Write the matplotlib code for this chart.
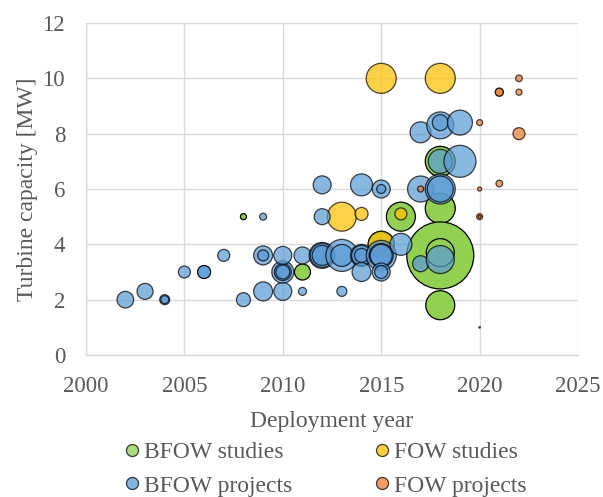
import matplotlib.pyplot as plt
import numpy as np

# bubble data: year, turbine capacity [MW], bubble value (relative area)
bfow_studies_year = [2008, 2011, 2015, 2016, 2018, 2018, 2018, 2018, 2018]
bfow_studies_mw   = [5.0, 3.0, 4.0, 5.0, 7.0, 5.3, 3.6, 3.7, 1.8]
bfow_studies_val  = [9, 64, 169, 210, 225, 225, 1122, 196, 210]

fow_studies_year = [2013, 2014, 2015, 2015, 2016, 2018]
fow_studies_mw   = [5.0, 5.1, 10.0, 4.0, 5.1, 10.0]
fow_studies_val  = [210, 42, 225, 169, 36, 225]

bfow_proj_year = [2002, 2003, 2004, 2004, 2005, 2006, 2006, 2007, 2008,
                  2009, 2009, 2009, 2009, 2010, 2010, 2010, 2010, 2010,
                  2011, 2011, 2012, 2012, 2012, 2012, 2012, 2013, 2013, 2013,
                  2014, 2014, 2014, 2014, 2014, 2015, 2015, 2015, 2015, 2015,
                  2015, 2015, 2016, 2017, 2017, 2017, 2018, 2018, 2018, 2018,
                  2018, 2018, 2019, 2019]
bfow_proj_mw = [2.0, 2.3, 2.0, 2.0, 3.0, 3.0, 3.0, 3.6, 2.0,
                2.3, 3.6, 3.6, 5.0, 2.3, 3.0, 3.0, 3.0, 3.6,
                2.3, 3.6, 6.15, 5.0, 3.6, 3.6, 3.6, 2.3, 3.6, 3.6,
                6.15, 3.6, 3.6, 3.6, 3.0, 6.0, 6.0, 3.6, 3.6, 3.6,
                3.0, 3.0, 4.0, 8.05, 6.0, 3.3, 8.3, 8.4, 7.0, 6.0,
                6.0, 3.45, 8.4, 7.0]
bfow_proj_val = [69, 64, 25, 16, 36, 42, 42, 36, 49,
                 90, 90, 30, 12, 81, 121, 72, 49, 81,
                 16, 72, 81, 64, 169, 144, 100, 25, 256, 121,
                 121, 121, 100, 49, 90, 81, 20, 225, 144, 121,
                 81, 42, 121, 110, 169, 64, 182, 64, 144, 225,
                 169, 196, 156, 256]

fow_proj_year = [2017, 2020, 2020, 2020, 2020, 2020, 2021, 2021, 2021, 2022, 2022, 2022]
fow_proj_mw   = [6.0, 8.4, 6.0, 5.0, 5.0, 1.0, 9.5, 9.5, 6.2, 10.0, 9.5, 8.0]
fow_proj_val  = [9, 9, 4, 9, 2, 0.5, 16, 16, 11, 11, 9, 36]

series = [
    ("BFOW studies", bfow_studies_year, bfow_studies_mw, bfow_studies_val, "#92D050", 1.0),
    ("FOW studies", fow_studies_year, fow_studies_mw, fow_studies_val, "#FFC000", 0.72),
    ("BFOW projects", bfow_proj_year, bfow_proj_mw, bfow_proj_val, "#5B9BD5", 0.72),
    ("FOW projects", fow_proj_year, fow_proj_mw, fow_proj_val, "#ED7D31", 0.72),
]

plt.rcParams['font.family'] = ['Liberation Serif', 'DejaVu Serif']
grey = "#595959"

fig = plt.figure(figsize=(6.03, 4.97), dpi=100)
ax = fig.add_axes([0.1426, 0.2857, 0.816, 0.668])

k = (2 * 0.72) ** 2  # value (px^2 radius) -> points^2 area
for name, xs, ys, vals, col, a in series:
    ax.scatter(xs, ys, s=np.array(vals) * k, color=col, alpha=a,
               edgecolors="black", linewidths=0.9, label=name, zorder=3)

ax.set_xlim(2000, 2025)
ax.set_ylim(0, 12)
ax.set_xticks(range(2000, 2026, 5))
ax.set_yticks(range(0, 13, 2))
ax.grid(color="#D9D9D9", linewidth=1.0, zorder=0)
ax.set_axisbelow(True)
for sp in ["top", "right"]:
    ax.spines[sp].set_visible(False)
for sp in ["left", "bottom"]:
    ax.spines[sp].set_color("#D9D9D9")
    ax.spines[sp].set_linewidth(1.0)
ax.tick_params(length=0, labelsize=16.5, labelcolor=grey, pad=15)
ax.set_xlabel("Deployment year", fontsize=17, color=grey, labelpad=10)
ax.set_ylabel("Turbine capacity [MW]", fontsize=17, color=grey, labelpad=3)

# row-wise legend order (matplotlib fills columns first)
handles, labels = ax.get_legend_handles_labels()
order = [0, 2, 1, 3]
leg = fig.legend([handles[i] for i in order], [labels[i] for i in order],
                 loc="center", bbox_to_anchor=(0.54, 0.056),
                 ncol=2, frameon=False, fontsize=17, labelcolor=grey,
                 handlelength=0.6, handletextpad=0.2, columnspacing=3.5,
                 labelspacing=0.5, borderpad=0, scatteryoffsets=[0.5])
for h in leg.legend_handles:
    h.set_sizes([75])
    h.set_alpha(0.75)

fig.savefig("out.png", dpi=100)
